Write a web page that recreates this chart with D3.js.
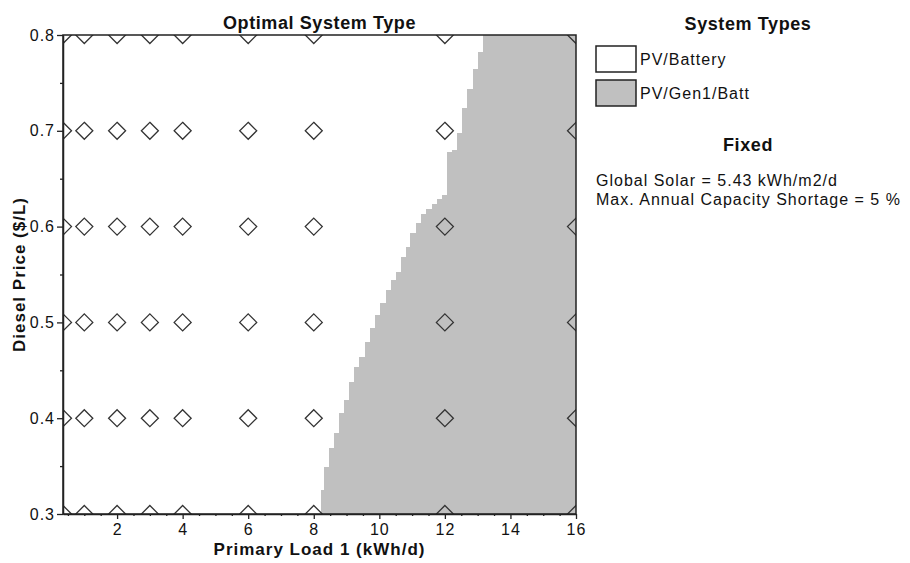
<!DOCTYPE html>
<html><head><meta charset="utf-8">
<script src="https://cdn.jsdelivr.net/npm/d3@7"></script>
<style>
html,body{margin:0;padding:0;background:#fff;}
text{font-family:"Liberation Sans",Arial,sans-serif;fill:#111;}
</style></head>
<body>
<svg id="chart" width="910" height="563"></svg>
<script>
// ---- data ----
const loadValues = [0.35, 1, 2, 3, 4, 6, 8, 12, 16];          // sensitivity points (kWh/d)
const priceValues = [0.3, 0.4, 0.5, 0.6, 0.7, 0.8];          // diesel price ($/L)
const xTickValues = [2, 4, 6, 8, 10, 12, 14, 16];
const yTickValues = [0.3, 0.4, 0.5, 0.6, 0.7, 0.8];
// boundary of the PV/Gen1/Batt region: from each price upward, loads >= boundaryLoad are PV/Gen1/Batt
const boundaryPrice = [0.300,0.325,0.349,0.369,0.385,0.405,0.419,0.438,0.453,0.464,0.480,0.494,0.508,0.520,0.534,0.544,0.553,0.568,0.579,0.593,0.604,0.613,0.618,0.624,0.629,0.633,0.678,0.680,0.698,0.724,0.744,0.764,0.782];
const boundaryLoad  = [8.21,8.32,8.47,8.62,8.77,8.92,9.08,9.23,9.38,9.57,9.72,9.87,10.02,10.19,10.35,10.50,10.65,10.80,10.95,11.12,11.27,11.43,11.60,11.75,11.90,12.07,12.22,12.38,12.53,12.69,12.85,13.02,13.15];
const systemTypes = ["PV/Battery", "PV/Gen1/Batt"];
const systemColors = ["#ffffff", "#c0c0c0"];
const fixedLines = ["Global Solar = 5.43 kWh/m2/d", "Max. Annual Capacity Shortage = 5 %"];

// ---- layout ----
const svg = d3.select("#chart");
const L = 63, R = 576, T = 35, B = 514;
const x = d3.scaleLinear().domain([0.35, 16]).range([L, R]);
const y = d3.scaleLinear().domain([0.3, 0.8]).range([B, T]);

svg.append("defs").append("clipPath").attr("id","plotclip")
  .append("rect").attr("x",L).attr("y",T).attr("width",R-L).attr("height",B-T);

const plot = svg.append("g").attr("clip-path","url(#plotclip)");

// gray region
const bands = boundaryPrice.map((p,i)=>({p0:p, p1: i<boundaryPrice.length-1 ? boundaryPrice[i+1] : y.domain()[1], load: boundaryLoad[i]}));
plot.selectAll("rect.band").data(bands).join("rect")
  .attr("class","band")
  .attr("x", d=>x(d.load)).attr("width", d=>x.range()[1]-x(d.load))
  .attr("y", d=>y(d.p1)).attr("height", d=>y(d.p0)-y(d.p1)+0.5)
  .attr("fill", systemColors[1]).attr("shape-rendering","crispEdges");

// diamonds
const pts = [];
priceValues.forEach(p=>loadValues.forEach(l=>pts.push({l,p})));
const r = 8.5;
plot.selectAll("path.dia").data(pts).join("path")
  .attr("class","dia")
  .attr("d", d=>{const cx=x(d.l), cy=y(d.p); return `M${cx},${cy-r}L${cx+r},${cy}L${cx},${cy+r}L${cx-r},${cy}Z`;})
  .attr("fill","none").attr("stroke","#333").attr("stroke-width",1.3);

// frame
svg.append("rect").attr("x",L).attr("y",T).attr("width",R-L).attr("height",B-T)
  .attr("fill","none").attr("stroke","#222").attr("stroke-width",1.5);

// axes
const xAxis = svg.append("g").attr("transform",`translate(0,${B})`)
  .call(d3.axisBottom(x).tickValues(xTickValues).tickSize(5).tickSizeOuter(0).tickFormat(d3.format("d")));
const xMinor = d3.range(0.5, 16, 0.5).filter(v=>v%2!==0);
svg.append("g").attr("transform",`translate(0,${B})`)
  .call(d3.axisBottom(x).tickValues(xMinor).tickSize(2).tickSizeOuter(0).tickFormat(""))
  .call(g=>g.select(".domain").remove());
const yAxis = svg.append("g").attr("transform",`translate(${L},0)`)
  .call(d3.axisLeft(y).tickValues(yTickValues).tickSize(6).tickSizeOuter(0).tickFormat(d3.format(".1f")));
const yMinor = [0.35,0.45,0.55,0.65,0.75];
svg.append("g").attr("transform",`translate(${L},0)`)
  .call(d3.axisLeft(y).tickValues(yMinor).tickSize(3).tickSizeOuter(0).tickFormat(""))
  .call(g=>g.select(".domain").remove());
svg.selectAll(".domain").attr("stroke","#222").attr("stroke-width",1.5);
svg.selectAll(".tick line").attr("stroke","#222").attr("stroke-width",1.3);
xAxis.selectAll(".tick text").attr("font-size",16).attr("dy","0.71em").attr("y",10).attr("letter-spacing",1)
  .attr("font-family","Liberation Sans, Arial, sans-serif").attr("fill","#111");
yAxis.selectAll(".tick text").attr("font-size",16).attr("x",-8).attr("letter-spacing",1)
  .attr("font-family","Liberation Sans, Arial, sans-serif").attr("fill","#111");

// titles
svg.append("text").attr("x",(L+R)/2).attr("y",23).attr("text-anchor","middle").attr("dominant-baseline","central")
  .attr("font-weight","bold").attr("font-size",18).attr("letter-spacing",0.6).text("Optimal System Type");
svg.append("text").attr("x",(L+R)/2).attr("y",549).attr("text-anchor","middle").attr("dominant-baseline","central")
  .attr("font-weight","bold").attr("font-size",17).attr("letter-spacing",1).text("Primary Load 1 (kWh/d)");
svg.append("text").attr("transform",`translate(19,${(T+B)/2}) rotate(-90)`).attr("text-anchor","middle").attr("dominant-baseline","central")
  .attr("font-weight","bold").attr("font-size",17).attr("letter-spacing",1).text("Diesel Price ($/L)");

// legend
const lx = 596, lcx = 748;
svg.append("text").attr("x",lcx).attr("y",23.5).attr("text-anchor","middle").attr("dominant-baseline","central")
  .attr("font-weight","bold").attr("font-size",18).attr("letter-spacing",0.6).text("System Types");
const leg = svg.selectAll("g.leg").data(systemTypes).join("g").attr("class","leg")
  .attr("transform",(d,i)=>`translate(${lx},${46+i*34})`);
leg.append("rect").attr("width",40).attr("height",26).attr("fill",(d,i)=>systemColors[i])
  .attr("stroke","#222").attr("stroke-width",1.5);
leg.append("text").attr("x",44).attr("y",13).attr("dominant-baseline","central").attr("font-size",16).attr("letter-spacing",1).text(d=>d);
svg.append("text").attr("x",lcx).attr("y",145).attr("text-anchor","middle").attr("dominant-baseline","central")
  .attr("font-weight","bold").attr("font-size",18).attr("letter-spacing",0.6).text("Fixed");
svg.selectAll("text.fixed").data(fixedLines).join("text").attr("class","fixed")
  .attr("x",lx).attr("y",(d,i)=>180+i*19).attr("dominant-baseline","central").attr("font-size",16).attr("letter-spacing",1).text(d=>d);
</script>
</body></html>
